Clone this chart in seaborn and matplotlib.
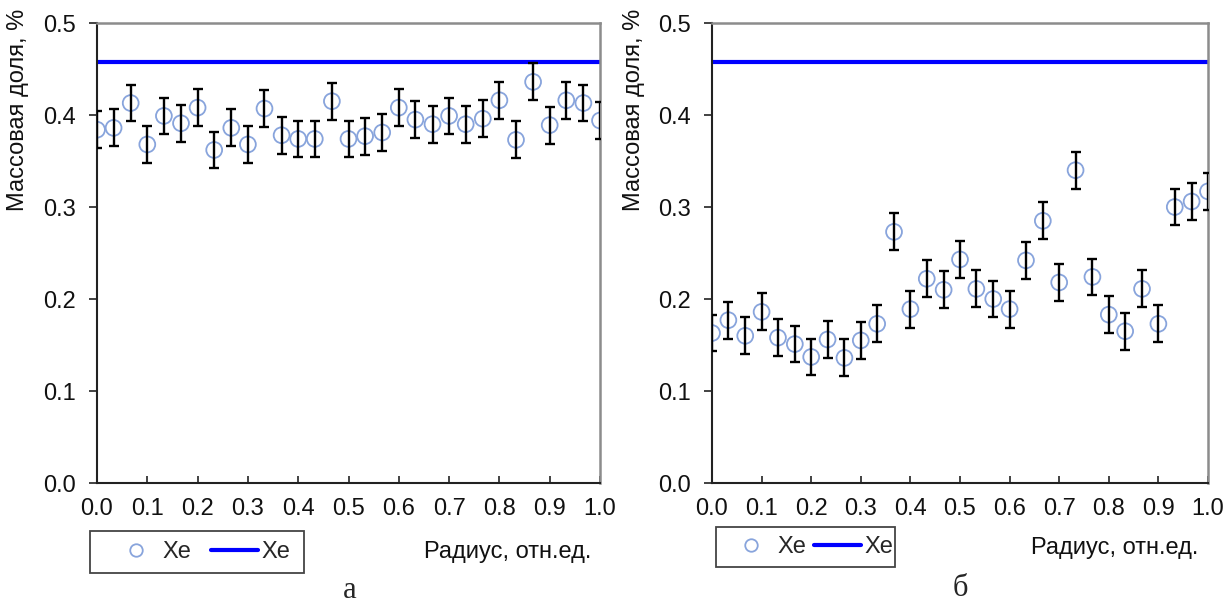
import matplotlib
matplotlib.use("Agg")
import matplotlib.pyplot as plt
import seaborn as sns
import pandas as pd
from matplotlib.lines import Line2D
from matplotlib.patches import Rectangle

# Relative radius of the measurement points
radius = [0.0, 0.033, 0.067, 0.1, 0.133, 0.167, 0.2, 0.233, 0.267, 0.3,
          0.333, 0.367, 0.4, 0.433, 0.467, 0.5, 0.533, 0.567, 0.6, 0.633,
          0.667, 0.7, 0.733, 0.767, 0.8, 0.833, 0.867, 0.9, 0.933, 0.967, 1.0]

# Xe mass fraction, % (panel а)
xe_a = [0.384, 0.386, 0.413, 0.368, 0.399, 0.391, 0.408, 0.362, 0.386, 0.368,
        0.407, 0.378, 0.374, 0.374, 0.415, 0.374, 0.377, 0.381, 0.408, 0.395,
        0.390, 0.399, 0.390, 0.396, 0.416, 0.373, 0.436, 0.389, 0.416, 0.413,
        0.394]

# Xe mass fraction, % (panel б)
xe_b = [0.163, 0.177, 0.160, 0.186, 0.158, 0.151, 0.137, 0.156, 0.136, 0.155,
        0.173, 0.273, 0.189, 0.222, 0.210, 0.243, 0.211, 0.200, 0.189, 0.242,
        0.285, 0.218, 0.340, 0.224, 0.183, 0.165, 0.211, 0.173, 0.300, 0.306,
        0.317]

xe_err = 0.02          # measurement uncertainty
xe_level = 0.458       # generated Xe content

y_ticks = [0.0, 0.1, 0.2, 0.3, 0.4, 0.5]
x_ticks = [0.0, 0.1, 0.2, 0.3, 0.4, 0.5, 0.6, 0.7, 0.8, 0.9, 1.0]

sns.set_style("white")
plt.rcParams["font.family"] = ["Liberation Sans", "DejaVu Sans"]

W, H = 1229, 611
fig = plt.figure(figsize=(W / 100, H / 100), dpi=100)

marker_color = "#88a4dc"
line_color = "#0000ff"
fs = 17


def fx(px):
    return px / W


def fy(py):
    return 1 - py / H


def panel(x0, x1, values, ylab_x, legend_box, legend_anchor, colsp,
          xlab_pos, cap_pos, cap):
    ax = fig.add_axes([fx(x0), fy(483), (x1 - x0) / W, (483 - 23) / H])
    df = pd.DataFrame({"r": radius, "xe": values})
    sns.lineplot(x=[0.0, 1.0], y=[xe_level, xe_level], ax=ax,
                 color=line_color, linewidth=3.0, zorder=2)
    sns.scatterplot(data=df, x="r", y="xe", ax=ax, s=130, marker="o",
                    facecolor="none", edgecolor=marker_color, linewidth=1.3,
                    zorder=3)
    ax.errorbar(df["r"], df["xe"], yerr=xe_err, fmt="none", ecolor="black",
                elinewidth=1.7, capsize=3.5, capthick=1.7, zorder=4)
    ax.set_xlim(0.0, 1.0)
    ax.set_ylim(0.0, 0.5)
    ax.set_xticks(x_ticks)
    ax.set_yticks(y_ticks)
    ax.set_xticklabels([f"{t:.1f}" for t in x_ticks])
    ax.set_yticklabels([f"{t:.1f}" for t in y_ticks])
    ax.set_xlabel("")
    ax.set_ylabel("")
    ax.tick_params(axis="y", direction="out", length=6, width=1.2,
                   labelsize=fs, pad=9, left=True, colors="#222222",
                   labelcolor="#111111")
    ax.tick_params(axis="x", direction="in", length=5, width=1.2,
                   labelsize=fs, pad=11, bottom=True, colors="#222222",
                   labelcolor="#111111")
    for s in ("left", "bottom"):
        ax.spines[s].set_color("#222222")
        ax.spines[s].set_linewidth(1.5)
    for s in ("top", "right"):
        ax.spines[s].set_color("#8c8c8c")
        ax.spines[s].set_linewidth(1.8)
        ax.spines[s].set_visible(True)

    fig.text(fx(ylab_x), fy(9), "Массовая доля, %", rotation=90,
             ha="center", va="top", fontsize=fs, color="#111111")

    # legend frame and entries
    bx0, bx1, by0, by1 = legend_box
    fig.patches.append(Rectangle((fx(bx0), fy(by1)), (bx1 - bx0) / W,
                                 (by1 - by0) / H, transform=fig.transFigure,
                                 facecolor="white", edgecolor="#444444",
                                 linewidth=1.3, zorder=1))
    handles = [Line2D([], [], linestyle="none", marker="o", markersize=9,
                      markerfacecolor="none", markeredgecolor=marker_color,
                      markeredgewidth=1.3),
               Line2D([], [], color=line_color, linewidth=3.0)]
    lx, ly = legend_anchor
    fig.legend(handles, ["Xe", "Xe"], loc="center left",
               bbox_to_anchor=(fx(lx), fy(ly)), ncol=2, fontsize=fs,
               frameon=False, handlelength=2.0, handletextpad=0.13,
               columnspacing=colsp, borderpad=0, borderaxespad=0)

    fig.text(fx(xlab_pos[0]), fy(xlab_pos[1]), "Радиус, отн.ед.", ha="left",
             va="center", fontsize=fs, color="#111111")
    fig.text(fx(cap_pos[0]), fy(cap_pos[1]), cap, ha="center",
             va="center", fontsize=22,
             family=["Liberation Serif", "DejaVu Serif"])
    return ax


panel(97, 600, xe_a, 18, (90, 304, 531, 573), (112, 552), 0.85,
      (424, 552), (350, 590), "а")
panel(712, 1208, xe_b, 634, (716, 895, 527, 567), (727, 547), 0.34,
      (1031, 548), (960, 588), "б")

fig.savefig("out.png", dpi=100)
